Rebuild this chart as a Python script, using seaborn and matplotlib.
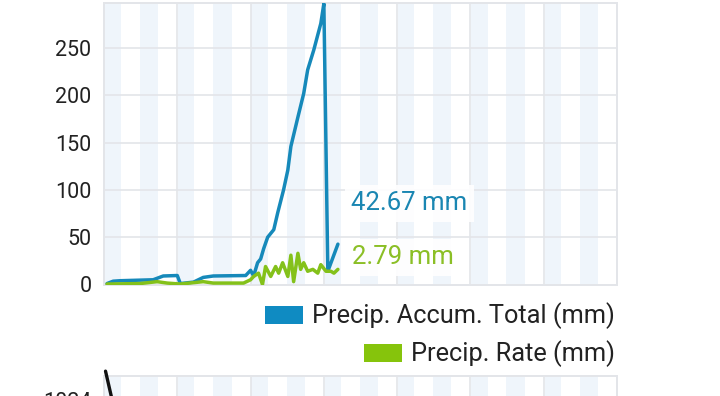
import matplotlib
matplotlib.use("Agg")
import matplotlib.pyplot as plt
from matplotlib.patches import Patch
import seaborn as sns
import pandas as pd

# ---- data (hours since start of the 7-day window) ----
accum_hours = [1.0, 3.0, 5.3, 16.1, 19.4, 24.0, 25.0, 29.3, 32.5, 35.8, 46.4, 48.0,
               49.0, 50.3, 51.3, 52.3, 53.6, 55.6, 56.9, 58.8, 60.2, 61.2, 63.5,
               65.4, 66.7, 68.7, 71.0, 72.0, 73.3, 76.6]
accum_mm = [1, 3.5, 4, 5, 9, 9.5, 1, 2.5, 7.5, 9, 9.5, 15,
            9, 23, 27, 38, 50, 58, 76, 100, 121, 146, 177,
            202, 227, 248, 276, 297, 14, 42.67]

rate_hours = [1.0, 11.8, 17.4, 20.7, 25.0, 32.5, 35.8, 45.7, 48.0, 49.0, 50.6, 51.9,
              52.9, 54.6, 56.2, 57.2, 58.5, 60.2, 61.2, 62.1, 63.5, 64.4, 65.4,
              66.7, 68.4, 70.0, 71.0, 72.7, 74.3, 75.3, 76.6]
rate_mm = [0.5, 1, 3, 1.5, 0.5, 3, 1.5, 1.5, 5, 8.5, 12, 0,
           19, 8.5, 19, 12, 23, 8.5, 31, 3, 33, 16, 23,
           14, 16, 12, 21, 14, 14, 12, 16]

accum_label_value = 42.67
rate_label_value = 2.79

pressure_hours = [0.5, 2.5, 5.0]
pressure_hpa = [1027.6, 1024.3, 1020.0]

series_names = ["Precip. Accum. Total (mm)", "Precip. Rate (mm)"]
y_ticks = [0, 50, 100, 150, 200, 250]
pressure_ticks = [1024]

# ---- style ----
sns.set_theme(style="white")
plt.rcParams["font.family"] = ["Roboto", "DejaVu Sans"]

BLUE = "#1689ba"
GREEN = "#84c11a"
BAND = "#eff5fb"
GRID = "#e3e5e9"
TEXT = "#222222"

fig = plt.figure(figsize=(7.2, 3.96), dpi=100)
fig.patch.set_facecolor("white")

W, H = 720.0, 396.0
left_px, right_px = 104, 617


def style_axes(ax):
    ax.set_xlim(0, 168)
    for d in range(7):
        ax.axvspan(d * 24 + 0.3, d * 24 + 5.6, color=BAND, lw=0, zorder=0)
        ax.axvspan(d * 24 + 11.8, d * 24 + 17.8, color=BAND, lw=0, zorder=0)
    ax.set_xticks(range(0, 169, 24))
    ax.grid(True, color=GRID, lw=1.2, zorder=0.5)
    ax.set_axisbelow(True)
    ax.tick_params(axis="x", labelbottom=False, length=0)
    ax.tick_params(axis="y", length=0, pad=9, labelsize=15.5, labelcolor=TEXT)
    for s in ax.spines.values():
        s.set_color(GRID)
        s.set_linewidth(1.4)
        s.set_visible(True)
    ax.set_xlabel("")
    ax.set_ylabel("")


# ---- top chart ----
ax = fig.add_axes([left_px / W, 1 - 284.5 / H, (right_px - left_px) / W, (284.5 - 2.7) / H])
style_axes(ax)
ax.set_ylim(0, 298)
ax.set_yticks(y_ticks)

df_a = pd.DataFrame({"t": accum_hours, "v": accum_mm})
df_r = pd.DataFrame({"t": rate_hours, "v": rate_mm})
sns.lineplot(data=df_a, x="t", y="v", ax=ax, color=BLUE, lw=2.5, estimator=None, sort=False, zorder=3)
sns.lineplot(data=df_r, x="t", y="v", ax=ax, color=GREEN, lw=2.5, estimator=None, sort=False, zorder=4)
ax.set_xlabel("")
ax.set_ylabel("")

ax.text(80.9, 86, f"{accum_label_value:.2f} mm", color="#1a86b2", fontsize=18.5,
        va="center", ha="left", zorder=6,
        bbox=dict(boxstyle="square,pad=0.25", fc="white", ec="none", alpha=0.9))
ax.text(81.2, 29, f"{rate_label_value:.2f} mm", color="#8bbf26", fontsize=18.5,
        va="center", ha="left", zorder=6,
        bbox=dict(boxstyle="square,pad=0.25", fc="white", ec="none", alpha=0.9))

# ---- legends (right aligned, one per row) ----
fs = 18.3
em = fs * 100 / 72.0
for name, col, ypx in [(series_names[0], "#0f8bc2", 316), (series_names[1], "#86c40c", 354)]:
    fig.legend(handles=[Patch(facecolor=col, edgecolor="none", label=name)],
               loc="center right", bbox_to_anchor=(615 / W, 1 - ypx / H),
               frameon=False, fontsize=fs, labelcolor=TEXT,
               handlelength=38 / em, handleheight=18 / em, handletextpad=9 / em,
               borderpad=0, borderaxespad=0)

# ---- bottom (partially visible) chart ----
ax2 = fig.add_axes([left_px / W, 1 - 594 / H, (right_px - left_px) / W, 218 / H])
style_axes(ax2)
ax2.set_ylim(1000, 1027)
ax2.set_yticks(pressure_ticks)
df_p = pd.DataFrame({"t": pressure_hours, "v": pressure_hpa})
sns.lineplot(data=df_p, x="t", y="v", ax=ax2, color="#111111", lw=2.4, estimator=None, sort=False, zorder=3)
for ln in ax2.lines:
    ln.set_clip_on(False)
ax2.set_xlabel("")
ax2.set_ylabel("")

fig.savefig("out.png", dpi=100)
